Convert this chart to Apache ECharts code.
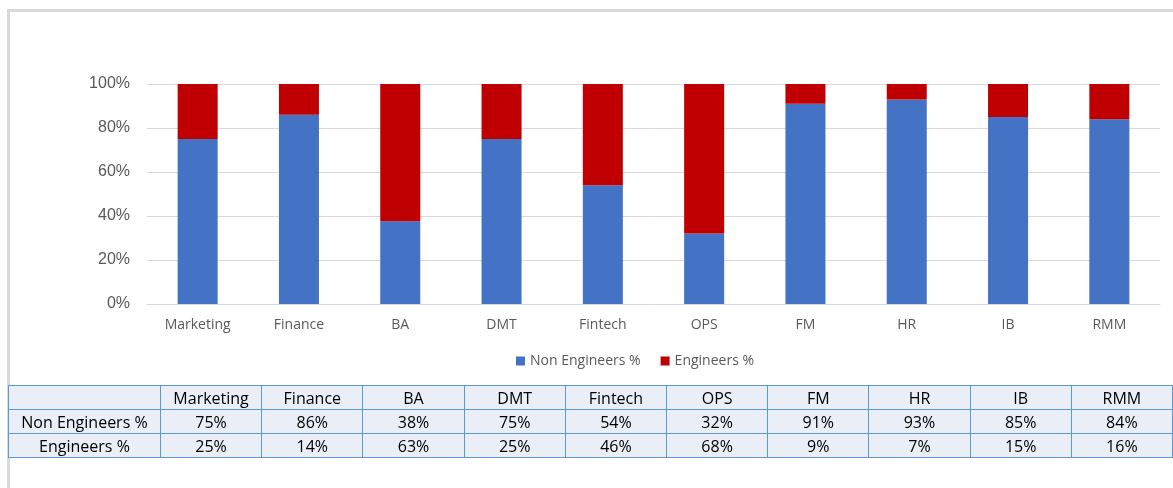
<!DOCTYPE html>
<html><head><meta charset="utf-8">
<script src="https://cdn.jsdelivr.net/npm/echarts@6/dist/echarts.min.js"></script>
<style>
html,body{margin:0;padding:0;background:#fff;}
#frame{position:absolute;left:7px;top:9px;width:1200px;height:520px;border-left:3px solid #d9d9d9;border-top:3px solid #d9d9d9;}
#chart{position:absolute;left:0;top:0;width:1173px;height:488px;}
#tbl{position:absolute;left:8px;top:385px;border-collapse:collapse;table-layout:fixed;font-family:"Open Sans","Noto Sans",sans-serif;font-size:16px;color:#000;}
#tbl td{border:1.5px solid #5b9bd5;background:#e9eef7;text-align:center;padding:0;height:23px;line-height:22px;white-space:nowrap;overflow:hidden;}
</style></head>
<body>
<div id="frame"></div>
<div id="chart"></div>
<table id="tbl"></table>
<script>
const categories = ['Marketing','Finance','BA','DMT','Fintech','OPS','FM','HR','IB','RMM'];
const nonEngineers = [75,86,38,75,54,32,91,93,85,84];
const engineers = [25,14,63,25,46,68,9,7,15,16];
const seriesNames = ['Non Engineers %','Engineers %'];
const yTicks = [0,20,40,60,80,100];

const totals = categories.map((c,i)=>nonEngineers[i]+engineers[i]);
const nonShare = nonEngineers.map((v,i)=>v/totals[i]*100);
const engShare = engineers.map((v,i)=>v/totals[i]*100);

const chart = echarts.init(document.getElementById('chart'));
chart.setOption({
  animation:false,
  grid:{left:147,right:13,top:84,bottom:184,containLabel:false},
  legend:{data:seriesNames,top:349,left:511,itemWidth:9,itemHeight:9,itemGap:20,icon:'rect',
    textStyle:{color:'#595959',fontSize:14,fontFamily:'"Open Sans","Noto Sans",sans-serif'}},
  xAxis:{type:'category',data:categories,
    axisLine:{lineStyle:{color:'#d9d9d9'}},axisTick:{show:false},
    axisLabel:{color:'#595959',fontSize:14,margin:14,fontFamily:'"Open Sans","Noto Sans",sans-serif'}},
  yAxis:{type:'value',min:yTicks[0],max:yTicks[yTicks.length-1],interval:20,
    axisLine:{show:false},axisTick:{show:false},
    splitLine:{lineStyle:{color:'#d9d9d9'}},
    axisLabel:{color:'#595959',fontSize:16,margin:17,padding:[6,0,0,0],fontFamily:'"Liberation Sans",Arial,sans-serif',formatter:'{value}%'}},
  series:[
    {name:seriesNames[0],type:'bar',stack:'s',data:nonShare,barWidth:'39.5%',itemStyle:{color:'#4472c4'}},
    {name:seriesNames[1],type:'bar',stack:'s',data:engShare,barWidth:'39.5%',itemStyle:{color:'#c00000'}}
  ]
});

// data table
const tbl = document.getElementById('tbl');
const cg = document.createElement('colgroup');
const c0 = document.createElement('col'); c0.style.width='152px'; cg.appendChild(c0);
categories.forEach(()=>{const c=document.createElement('col');c.style.width='101.3px';cg.appendChild(c);});
tbl.appendChild(cg);
function addRow(cells){
  const tr=document.createElement('tr');
  cells.forEach(t=>{const td=document.createElement('td');td.textContent=t;tr.appendChild(td);});
  tbl.appendChild(tr);
}
addRow([''].concat(categories));
addRow([seriesNames[0]].concat(nonEngineers.map(v=>v+'%')));
addRow([seriesNames[1]].concat(engineers.map(v=>v+'%')));
</script>
</body></html>
